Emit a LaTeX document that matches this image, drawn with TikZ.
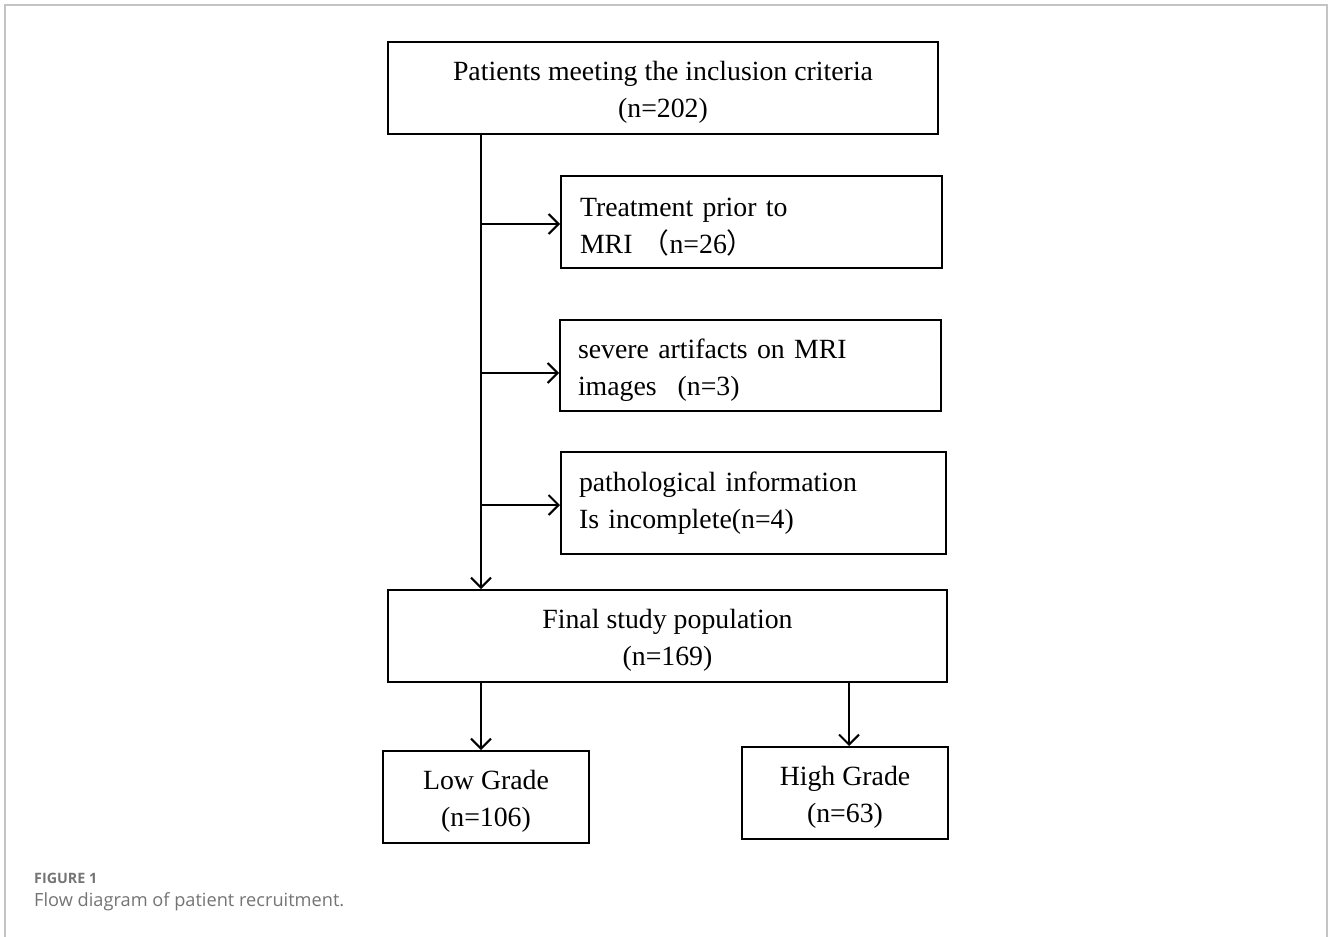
\documentclass[tikz,border=0pt]{standalone}
\usepackage{fontspec}
\setmainfont{Liberation Serif}
\newfontfamily\capfont{Open Sans}
\newfontfamily\cjk{Noto Sans CJK SC}
\usetikzlibrary{arrows.meta}
\definecolor{framegray}{HTML}{C4C4C4}
\definecolor{capgray}{HTML}{747474}
\newcommand\topstrut{\rule{0pt}{28pt}}
\newcommand\sidestrut{\rule{0pt}{29.5pt}}
\begin{document}
\begin{tikzpicture}[x=1pt,y=-1pt,
  box/.style={draw=black, line width=2pt, inner sep=0pt, font=\fontsize{27.8}{37}\selectfont},
  sidebox/.style={box, minimum height=92pt, text width=#1, align=left},
  arr/.style={draw=black, line width=2pt, -{Straight Barb[length=10pt,width=20pt,line width=2pt]}}]
\useasboundingbox (0,0) rectangle (1328,937);
\draw[framegray, line width=2pt] (5,937) -- (5,5) -- (1327,5) -- (1327,937);
% boxes
\node[box, minimum width=550pt, minimum height=92pt, align=center] (top) at (663,88)
  {\topstrut Patients meeting the inclusion criteria\\(n=202)};
\node[sidebox=343pt, minimum width=381pt] (b1) at (751.5,222)
  {\sidestrut Treatment prior to\\MRI {\cjk （}n=26{\cjk ）}};
\node[sidebox=345pt, minimum width=381pt, minimum height=91pt] (b2) at (750.5,365.5)
  {\sidestrut severe artifacts on MRI\\images\hspace{0.75em}(n=3)};
\node[sidebox=349pt, minimum width=385pt, minimum height=102pt] (b3) at (753.5,503)
  {pathological information\\Is incomplete(n=4)};
\node[box, minimum width=559pt, minimum height=92pt, align=center] (final) at (667.5,636)
  {\topstrut Final study population\\(n=169)};
\node[box, minimum width=206pt, minimum height=92pt, align=center] (low) at (486,797)
  {\topstrut Low Grade\\(n=106)};
\node[box, minimum width=206pt, minimum height=92pt, align=center] (high) at (845,793)
  {\topstrut High Grade\\(n=63)};
% connectors
\coordinate (tx) at (481,0);
\coordinate (hx) at (849,0);
\coordinate (j1) at (481,224);
\coordinate (j2) at (481,373);
\coordinate (j3) at (481,505);
\draw[arr] (top.south -| tx) -- (final.north -| tx);
\draw[arr] (j1) -- (b1.west |- j1);
\draw[arr] (j2) -- (b2.west |- j2);
\draw[arr] (j3) -- (b3.west |- j3);
\draw[arr] (final.south -| tx) -- (low.north -| tx);
\draw[arr] (final.south -| hx) -- (high.north -| hx);
% caption
\node[anchor=base west, inner sep=0pt, text=capgray, font=\capfont\fontsize{14.3}{16}\selectfont\bfseries] (figlabel) at (34,883) {FIGURE 1};
\node[anchor=base west, inner sep=0pt, text=capgray, font=\capfont\fontsize{18.2}{22}\selectfont] (figcap) at (34,906) {Flow diagram of patient recruitment.};
\end{tikzpicture}
\end{document}
